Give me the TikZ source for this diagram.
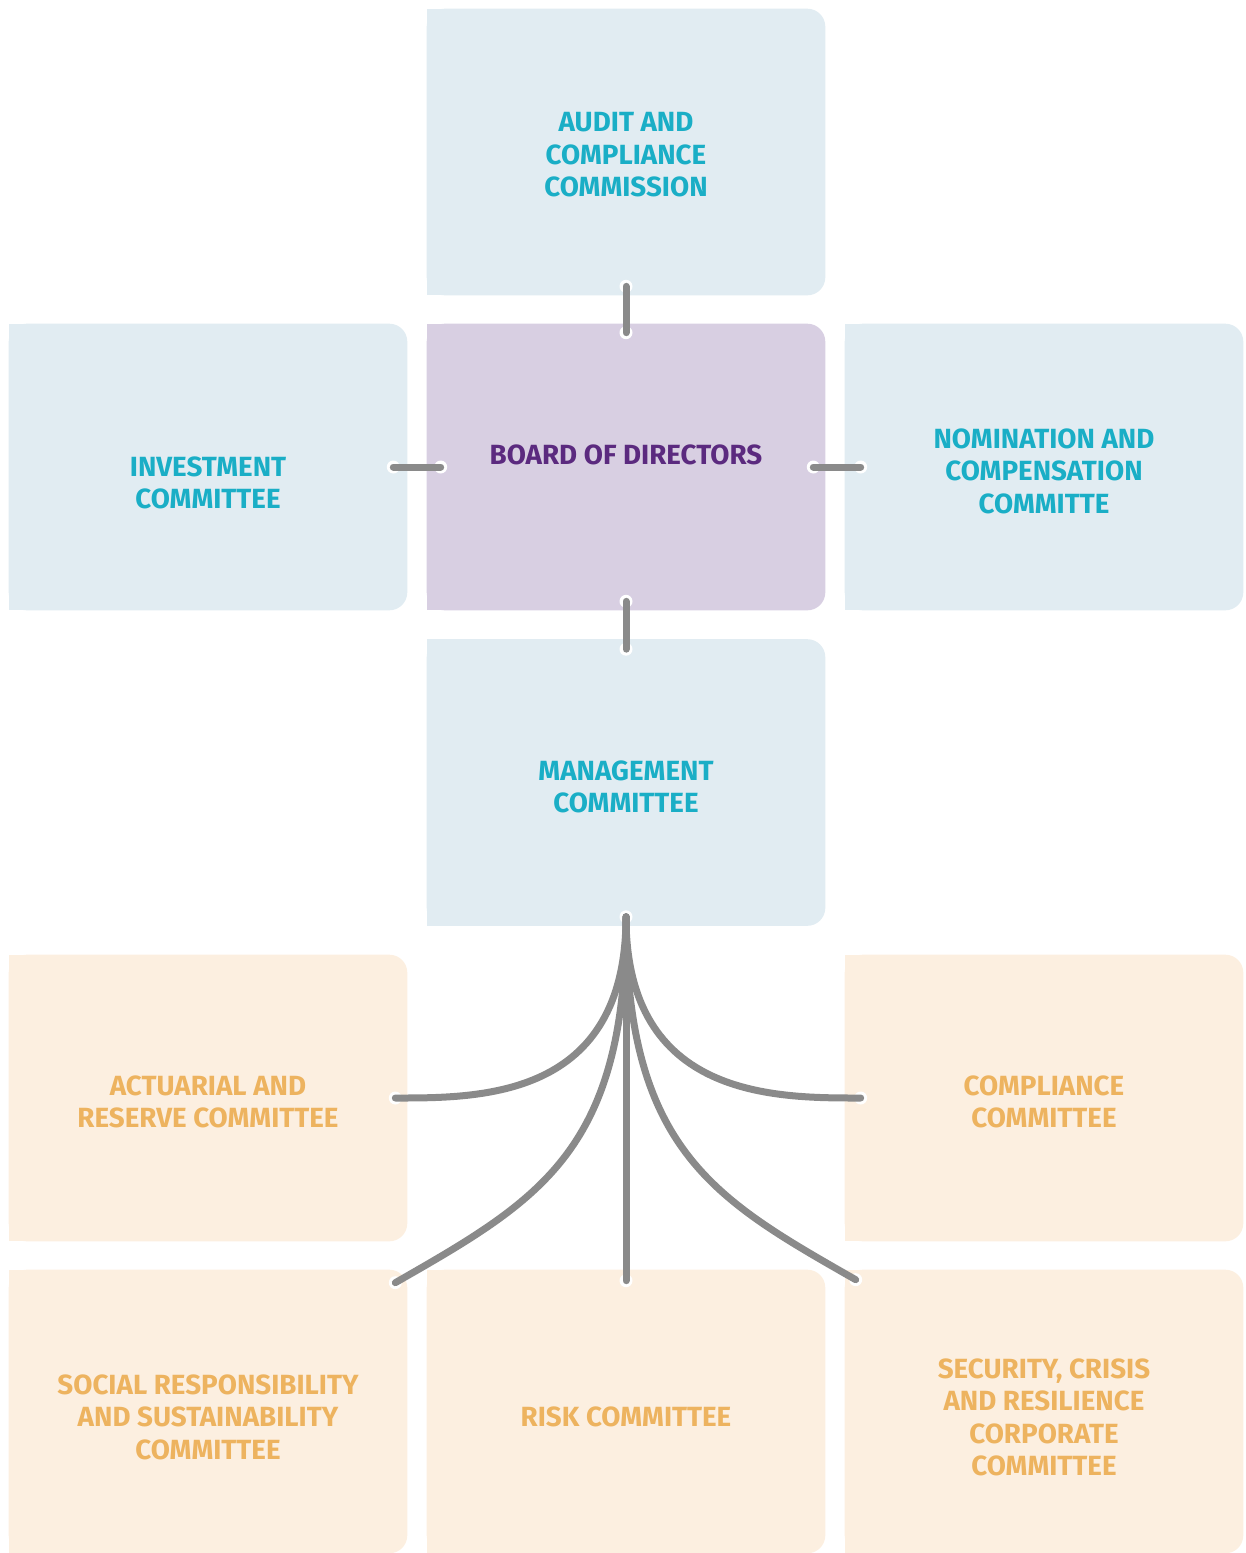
\documentclass[tikz,border=0pt]{standalone}
\usepackage{fontspec}
\setmainfont{Fira Sans}
\usetikzlibrary{backgrounds}

\definecolor{boxblue}{HTML}{E1ECF2}
\definecolor{boxlilac}{HTML}{D8CFE2}
\definecolor{boxsand}{HTML}{FCEFE0}
\definecolor{txtteal}{HTML}{1AAEC6}
\definecolor{txtplum}{HTML}{5B2A7F}
\definecolor{txtsand}{HTML}{EDB35F}
\definecolor{linkgray}{HTML}{8A8A8A}

\tikzset{
  box/.style={minimum width=7.96cm, minimum height=5.72cm, inner sep=0pt},
  lowbox/.style={box, minimum height=5.66cm},
  label txt/.style={font=\bfseries\fontsize{15.8}{18.5}\selectfont, align=center, inner sep=0pt},
  link/.style={linkgray, line width=0.14cm, line cap=round},
}

\begin{document}
\begin{tikzpicture}[x=0.02cm, y=-0.02cm]
\useasboundingbox (0,0) rectangle (1246,1553);

% boxes
\node[box] (audit) at (626,152) {};
\node[box] (invest) at (208,467) {};
\node[box] (board) at (626,467) {};
\node[box] (nomin) at (1044,467) {};
\node[box] (manage) at (626,782.5) {};
\node[box] (actuar) at (208,1098) {};
\node[box] (complc) at (1044,1098) {};
\node[lowbox] (social) at (208,1411.5) {};
\node[lowbox] (risk) at (626,1411.5) {};
\node[lowbox] (secur) at (1044,1411.5) {};

\begin{scope}[on background layer]
\foreach \n/\c in {audit/boxblue, invest/boxblue, board/boxlilac, nomin/boxblue, manage/boxblue,
                   actuar/boxsand, complc/boxsand, social/boxsand, risk/boxsand, secur/boxsand}{
  \fill[\c, rounded corners=0.36cm] (\n.south west) rectangle (\n.north east);
  \fill[\c] (\n.south west) rectangle (\n.north);
}
\end{scope}

% texts
\node[label txt, text=txtteal] (audit-t) at (626,155) {AUDIT AND\\COMPLIANCE\\COMMISSION};
\node[label txt, text=txtteal] (invest-t) at (208,483) {INVESTMENT\\COMMITTEE};
\node[label txt, text=txtplum] (board-t) at (626,455) {BOARD OF DIRECTORS};
\node[label txt, text=txtteal] (nomin-t) at (1044,471) {NOMINATION AND\\COMPENSATION\\COMMITTE};
\node[label txt, text=txtteal] (manage-t) at (626,787) {MANAGEMENT\\COMMITTEE};
\node[label txt, text=txtsand] (actuar-t) at (208,1102) {ACTUARIAL AND\\RESERVE COMMITTEE};
\node[label txt, text=txtsand] (complc-t) at (1044,1102) {COMPLIANCE\\COMMITTEE};
\node[label txt, text=txtsand] (social-t) at (208,1417) {SOCIAL RESPONSIBILITY\\AND SUSTAINABILITY\\COMMITTEE};
\node[label txt, text=txtsand] (risk-t) at (626,1417) {RISK COMMITTEE};
\node[label txt, text=txtsand] (secur-t) at (1044,1417.5) {SECURITY, CRISIS\\AND RESILIENCE\\CORPORATE\\COMMITTEE};

% link ends
\coordinate (a1) at ([yshift=0.18cm]audit.south);
\coordinate (a2) at ([yshift=-0.18cm]board.north);
\coordinate (i1) at ([xshift=-0.28cm]invest.east);
\coordinate (i2) at ([xshift=0.28cm]board.west);
\coordinate (n1) at ([xshift=-0.24cm]board.east);
\coordinate (n2) at ([xshift=0.32cm]nomin.west);
\coordinate (m1) at ([yshift=0.18cm]board.south);
\coordinate (m2) at ([yshift=-0.2cm]manage.north);
\coordinate (fan) at ([yshift=0.18cm]manage.south);
\coordinate (e1) at ([xshift=-0.24cm]actuar.east);
\coordinate (e2) at ([xshift=0.32cm]complc.west);
\coordinate (e3) at ([xshift=-0.24cm,yshift=-0.26cm]social.north east);
\coordinate (e4) at ([yshift=-0.22cm]risk.north);
\coordinate (e5) at ([xshift=0.22cm,yshift=-0.2cm]secur.north west);

\foreach \p in {a1,a2,i1,i2,n1,n2,m1,m2,fan,e1,e2,e3,e4,e5}
  \fill[white] (\p) circle[radius=0.13cm];

\draw[link] (a1) -- (a2);
\draw[link] (i1) -- (i2);
\draw[link] (n1) -- (n2);
\draw[link] (m1) -- (m2);
\draw[link] (fan) .. controls +(0,182) and +(85,0) .. (e1);
\draw[link] (fan) .. controls +(0,182) and +(-85,0) .. (e2);
\draw[link] (fan) .. controls +(0,234) and +(145,-83) .. (e3);
\draw[link] (fan) -- (e4);
\draw[link] (fan) .. controls +(0,234) and +(-140,-80) .. (e5);
\end{tikzpicture}
\end{document}
